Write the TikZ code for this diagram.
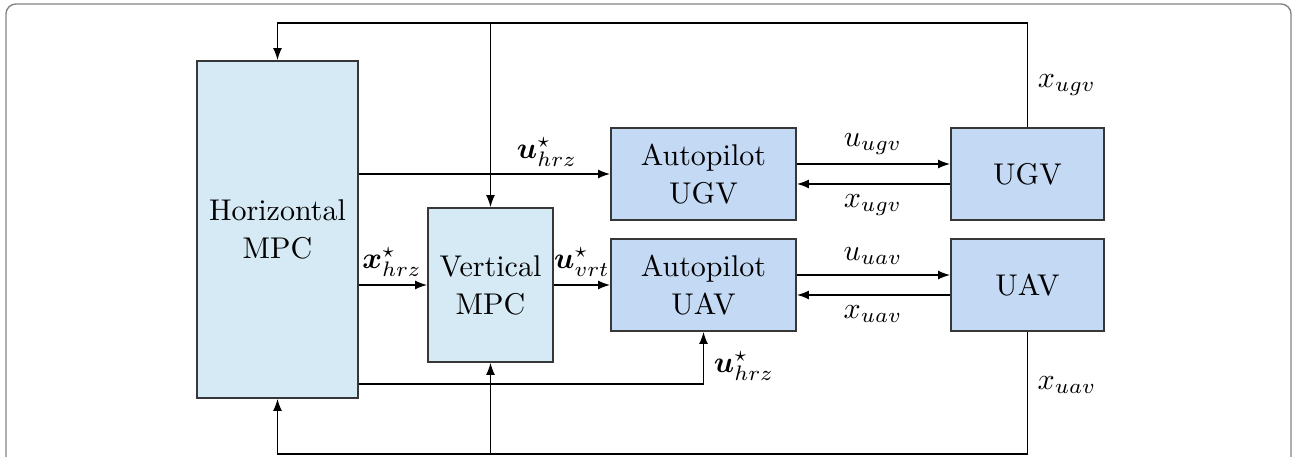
\documentclass[tikz,border=0pt]{standalone}
\usepackage{amsmath,bm}
\usetikzlibrary{arrows.meta,calc}
\definecolor{mpcfill}{RGB}{214,234,245}
\definecolor{plantfill}{RGB}{196,217,244}
\definecolor{boxline}{RGB}{55,55,55}
\definecolor{framegray}{RGB}{130,130,130}
\begin{document}
\begin{tikzpicture}[x=0.33333pt,y=-0.33333pt,
  font=\fontsize{10}{12.7}\selectfont,
  blk/.style={draw=boxline,line width=0.6pt,align=center,inner sep=0pt},
  mpcbox/.style={blk,fill=mpcfill},
  plantbox/.style={blk,fill=plantfill,minimum height=30.67pt},
  arr/.style={-{Latex[length=4pt,width=3pt]},line width=0.5pt},
  lbl/.style={inner sep=0pt}]
\useasboundingbox (0,0) rectangle (1294,457);
% outer frame (open at the bottom)
\draw[framegray,line width=0.45pt,rounded corners=3.3pt] (6,520) -- (6,4) -- (1291,4) -- (1291,520);

% blocks
\node[mpcbox,minimum width=53.67pt,minimum height=112.33pt] (hmpc) at (277.5,229.5) {Horizontal\\MPC};
\node[mpcbox,minimum width=41.67pt,minimum height=51.33pt] (vmpc) at (490.5,285) {Vertical\\MPC};
\node[plantbox,minimum width=61.67pt] (apugv) at (703.5,174) {Autopilot\\UGV};
\node[plantbox,minimum width=61.67pt] (apuav) at (703.5,285) {Autopilot\\UAV};
\node[plantbox,minimum width=51pt] (ugv) at (1027.5,174) {UGV};
\node[plantbox,minimum width=51pt] (uav) at (1027.5,285) {UAV};

% junctions of the feedback loops
\coordinate (ftop) at (490.5,23);
\coordinate (fbot) at (490.5,454);

% feedback of the UGV state
\draw[arr] (ugv.north) |- (ftop) -| (hmpc.north);
\draw[arr] (ftop) -- (vmpc.north);
% feedback of the UAV state
\draw[arr] (uav.south) |- (fbot) -| (hmpc.south);
\draw[arr] (fbot) -- (vmpc.south);

% references from the horizontal MPC
\draw[arr] (apugv.west -| hmpc.east) -- (apugv.west);
\draw[arr] (vmpc.west -| hmpc.east) -- (vmpc.west);
\draw[arr] ([yshift=5pt]hmpc.south east) -| (apuav.south);
\draw[arr] (vmpc.east) -- (apuav.west);

% autopilot / vehicle exchange
\draw[arr] ([yshift=3.33pt]apugv.east) -- ([yshift=3.33pt]ugv.west);
\draw[arr] ([yshift=-3.33pt]ugv.west) -- ([yshift=-3.33pt]apugv.east);
\draw[arr] ([yshift=3.33pt]apuav.east) -- ([yshift=3.33pt]uav.west);
\draw[arr] ([yshift=-3.33pt]uav.west) -- ([yshift=-3.33pt]apuav.east);

% labels
\node[lbl] (l1) at (547,152) {$\bm{u}^{\star}_{hrz}$};
\node[lbl] (l2) at (392,262) {$\bm{x}^{\star}_{hrz}$};
\node[lbl] (l3) at (582,262) {$\bm{u}^{\star}_{vrt}$};
\node[lbl] (l4) at (744,366) {$\bm{u}^{\star}_{hrz}$};
\node[lbl] (l5) at (873,144) {$u_{ugv}$};
\node[lbl] (l6) at (873,205) {$x_{ugv}$};
\node[lbl] (l7) at (873,256) {$u_{uav}$};
\node[lbl] (l8) at (873,314) {$x_{uav}$};
\node[lbl] (l9) at (1067,85) {$x_{ugv}$};
\node[lbl] (l10) at (1067,385) {$x_{uav}$};
\end{tikzpicture}
\end{document}
